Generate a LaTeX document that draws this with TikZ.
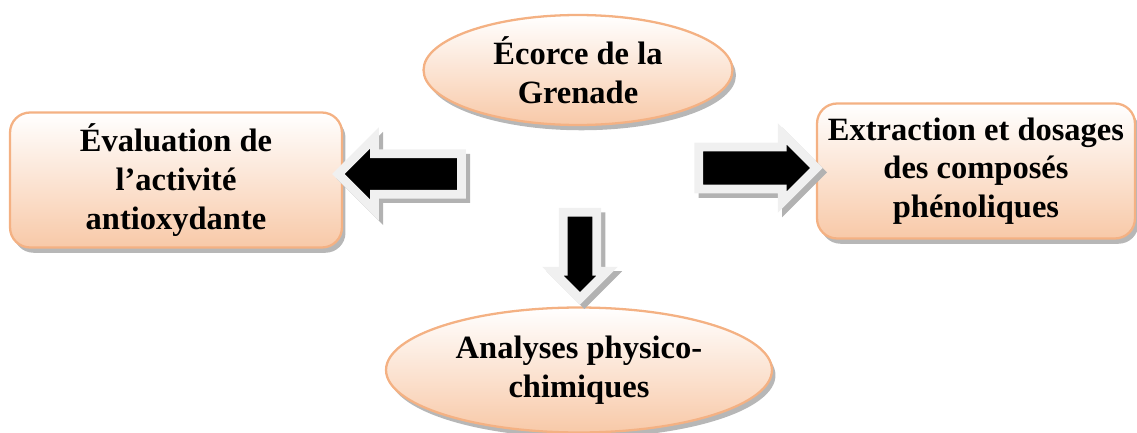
\documentclass[tikz,border=0pt]{standalone}
\usepackage{fontspec}
\setmainfont{Liberation Serif}
\usetikzlibrary{arrows.meta,shapes.geometric,shapes.arrows,shadows,positioning,calc}
\definecolor{peach}{HTML}{F8C9A8}
\definecolor{peachline}{HTML}{F4B183}
\begin{document}
\begin{tikzpicture}[x=0.02cm,y=-0.02cm,
 box/.style={draw=peachline,line width=1.3pt,top color=white,bottom color=peach,align=center,inner sep=0pt,font=\bfseries\fontsize{18.5}{22}\selectfont,drop shadow={shadow xshift=2pt,shadow yshift=-3pt,fill=gray!80,opacity=.7}},
 oval/.style={box,ellipse},
 rbox/.style={box,rectangle,rounded corners=0.4cm},
 blk/.style={single arrow,fill=black,draw=gray!12,line width=5pt,inner xsep=0pt,single arrow tip angle=90,drop shadow={shadow xshift=2.5pt,shadow yshift=-2.5pt,fill=gray!60,draw=gray!60,line width=5pt,opacity=1}}]
\useasboundingbox (0,0) rectangle (1137,433);
\node[oval,minimum width=6.18cm,minimum height=2.2cm] (ecorce) at (578,70) {Écorce de la\\Grenade};
\node[rbox,minimum width=6.64cm,minimum height=2.7cm] (eval) at (176,180) {Évaluation de\\l’activité\\antioxydante};
\node[rbox,minimum width=6.36cm,minimum height=2.7cm] (extr) at (976,171) {Extraction et dosages\\des composés\\phénoliques};
\node[oval,minimum width=7.72cm,minimum height=2.5cm] (analyse) at (579,370) {Analyses physico-\\chimiques};
% block arrows between the boxes
\node[blk,minimum height=70pt,inner ysep=9pt,single arrow head extend=9pt,shape border rotate=180] (toeval) at (410,174) {};
\node[blk,minimum height=67pt,inner ysep=9.5pt,single arrow head extend=7.5pt] (toextr) at (747,168) {};
\node[blk,minimum height=49pt,inner ysep=7pt,single arrow head extend=6pt,rotate=-90] (toanalyse) at (580,247) {};
\end{tikzpicture}
\end{document}
